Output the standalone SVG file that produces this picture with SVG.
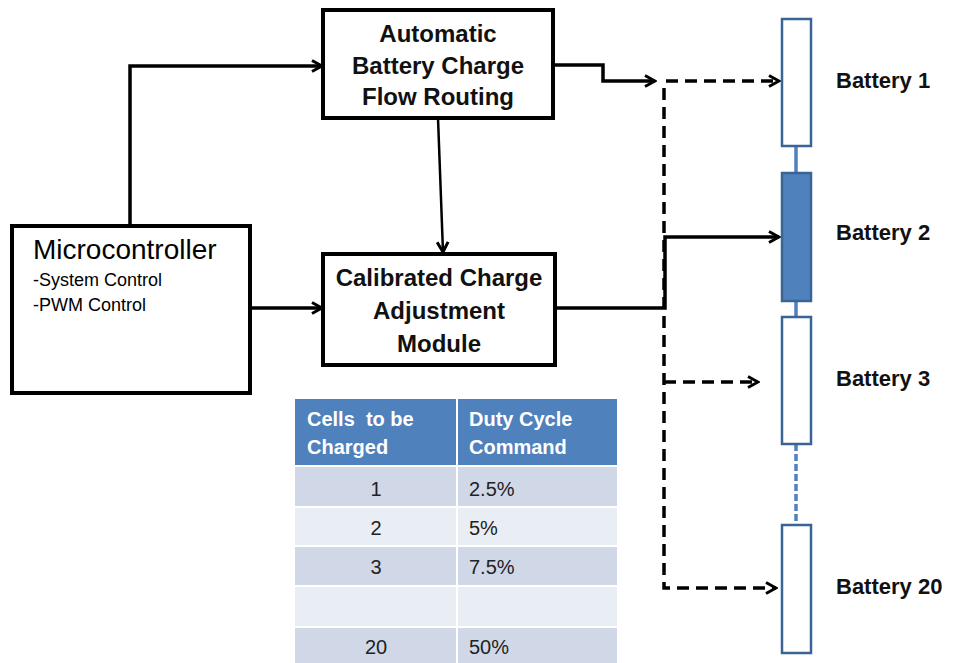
<svg xmlns="http://www.w3.org/2000/svg" width="960" height="663" viewBox="0 0 960 663">
<defs>
<marker id="arr" viewBox="0 0 14 14" refX="12" refY="7" markerWidth="14" markerHeight="14" markerUnits="userSpaceOnUse" orient="auto">
<path d="M2,1.5 L12,7 L2,12.5" fill="none" stroke="#000" stroke-width="3"/>
</marker>
<style>
.box{fill:#fff;stroke:#000;stroke-width:4}
.t{font-family:"Liberation Sans",Arial,sans-serif;fill:#000}
.bt{font-family:"Liberation Sans",Arial,sans-serif;font-weight:bold;font-size:24px;text-anchor:middle;fill:#111}
.bl{font-family:"Liberation Sans",Arial,sans-serif;font-weight:bold;font-size:22px;fill:#111}
.ln{fill:none;stroke:#000;stroke-width:3.5}
.dash{fill:none;stroke:#000;stroke-width:3.5;stroke-dasharray:12 7}
.bat{fill:#fff;stroke:#3B6496;stroke-width:2.5}
.link{stroke:#4F81BD;stroke-width:3.5}
.th{font-family:"Liberation Sans",Arial,sans-serif;font-weight:bold;font-size:20px;fill:#fff}
.td{font-family:"Liberation Sans",Arial,sans-serif;font-size:20px;fill:#222}
</style>
</defs>
<rect width="960" height="663" fill="#fff"/>

<g id="connectors">
<polyline class="ln" points="130,226 130,66 322,66" marker-end="url(#arr)"/>
<polyline class="ln" points="250,308 322,308" marker-end="url(#arr)"/>
<line x1="438" y1="118" x2="443" y2="252" stroke="#000" stroke-width="2.5" marker-end="url(#arr)"/>
<polyline class="ln" points="553,65 603,65 603,81 655,81" marker-end="url(#arr)"/>
<polyline class="dash" points="666,81 779,81"  marker-end="url(#arr)"/>
<polyline class="dash" points="664,88 664,588 776,588" marker-end="url(#arr)"/>
<polyline class="dash" points="664,382 758,382" marker-end="url(#arr)"/>
<polyline class="ln" points="555,308 665,308 665,237 779,237" marker-end="url(#arr)"/>
</g>

<g id="automatic-routing">
<rect class="box" x="323" y="10" width="230" height="108"/>
<text class="bt" x="438" y="42">Automatic</text>
<text class="bt" x="438" y="74">Battery Charge</text>
<text class="bt" x="438" y="105">Flow Routing</text>
</g>

<g id="microcontroller">
<rect class="box" x="12" y="226" width="238" height="167"/>
<text class="t" x="33" y="259" font-size="28">Microcontroller</text>
<text class="t" x="33" y="286" font-size="18">-System Control</text>
<text class="t" x="33" y="311" font-size="18">-PWM Control</text>
</g>

<g id="calibrated-module">
<rect class="box" x="323" y="254" width="232" height="111"/>
<text class="bt" x="439" y="286">Calibrated Charge</text>
<text class="bt" x="439" y="319">Adjustment</text>
<text class="bt" x="439" y="352">Module</text>
</g>

<g id="batteries">
<line class="link" x1="796" y1="146" x2="796" y2="173"/>
<line class="link" x1="796" y1="301" x2="796" y2="317"/>
<line class="link" x1="796" y1="444" x2="796" y2="525" stroke-dasharray="7 3"/>
<g id="battery-1">
<rect class="bat" x="782" y="19" width="29" height="127"/>
<text class="bl" x="836" y="88">Battery 1</text>
</g>
<g id="battery-2">
<rect class="bat" x="782" y="173" width="29" height="128" style="fill:#4F81BD"/>
<text class="bl" x="836" y="240">Battery 2</text>
</g>
<g id="battery-3">
<rect class="bat" x="782" y="317" width="29" height="127"/>
<text class="bl" x="836" y="386">Battery 3</text>
</g>
<g id="battery-20">
<rect class="bat" x="782" y="525" width="29" height="128"/>
<text class="bl" x="836" y="594">Battery 20</text>
</g>
</g>

<g id="duty-table">
<rect x="295" y="399" width="161" height="66" fill="#4F81BD"/>
<rect x="458" y="399" width="159" height="66" fill="#4F81BD"/>
<rect x="295" y="467" width="161" height="39" fill="#D0D8E8"/>
<rect x="458" y="467" width="159" height="39" fill="#D0D8E8"/>
<rect x="295" y="508" width="161" height="37" fill="#E9EDF4"/>
<rect x="458" y="508" width="159" height="37" fill="#E9EDF4"/>
<rect x="295" y="547" width="161" height="38" fill="#D0D8E8"/>
<rect x="458" y="547" width="159" height="38" fill="#D0D8E8"/>
<rect x="295" y="587" width="161" height="39" fill="#E9EDF4"/>
<rect x="458" y="587" width="159" height="39" fill="#E9EDF4"/>
<rect x="295" y="628" width="161" height="35" fill="#D0D8E8"/>
<rect x="458" y="628" width="159" height="35" fill="#D0D8E8"/>
<text class="th" x="307" y="426" xml:space="preserve">Cells  to be</text>
<text class="th" x="307" y="454">Charged</text>
<text class="th" x="469" y="426">Duty Cycle</text>
<text class="th" x="469" y="454">Command</text>
<text class="td" x="376" y="496" text-anchor="middle">1</text>
<text class="td" x="469" y="496">2.5%</text>
<text class="td" x="376" y="535" text-anchor="middle">2</text>
<text class="td" x="469" y="535">5%</text>
<text class="td" x="376" y="574" text-anchor="middle">3</text>
<text class="td" x="469" y="574">7.5%</text>
<text class="td" x="376" y="654" text-anchor="middle">20</text>
<text class="td" x="469" y="654">50%</text>
</g>
</svg>
